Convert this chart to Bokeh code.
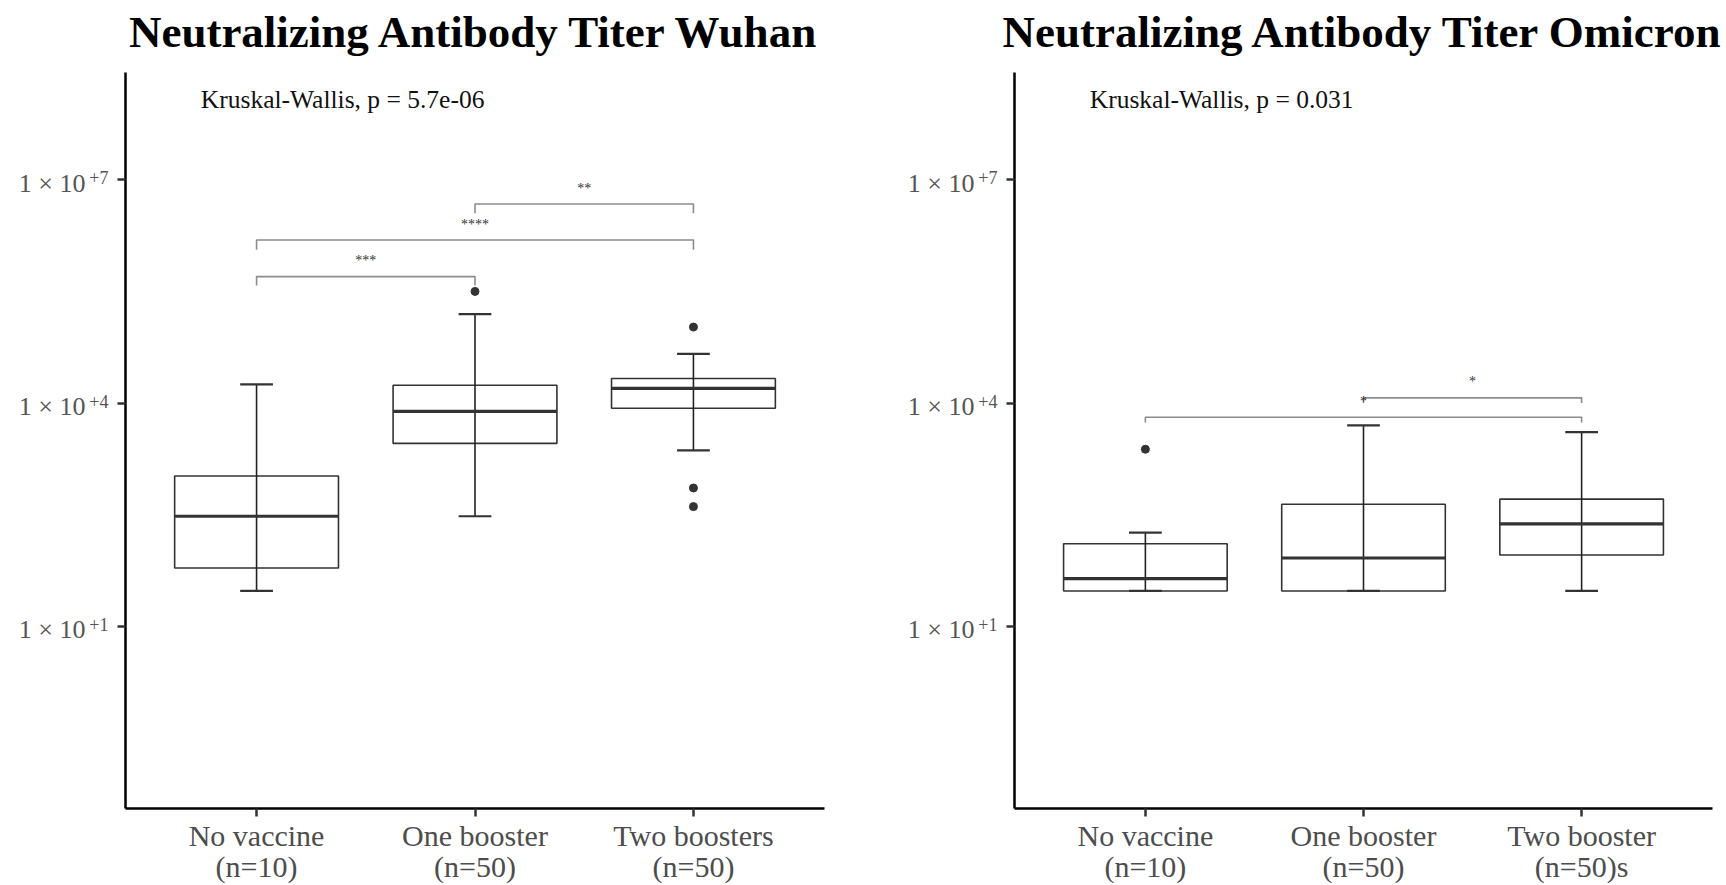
from bokeh.plotting import figure
from bokeh.layouts import row
from bokeh.models import Range1d, FixedTicker, ColumnDataSource, Title, LogAxis
from bokeh.embed import file_html
from bokeh.resources import INLINE
from bokeh.core.properties import value

# ---------------- data ----------------
groups_wuhan = ["No vaccine", "One booster", "Two boosters"]
counts_wuhan = ["(n=10)", "(n=50)", "(n=50)"]
groups_omicron = ["No vaccine", "One booster", "Two booster"]
counts_omicron = ["(n=10)", "(n=50)", "(n=50)s"]
group_pos = [1, 2, 3]

y_ticks = [1e1, 1e4, 1e7]
y_tick_mantissa = ["1 × 10", "1 × 10", "1 × 10"]
y_tick_exponent = ["+1", "+4", "+7"]

wuhan_lower = [30, 302, 2320]
wuhan_q1 = [61, 2880, 8510]
wuhan_median = [302, 7760, 15800]
wuhan_q3 = [1050, 17400, 21400]
wuhan_upper = [17800, 157000, 45700]
wuhan_outlier_group = [2, 3, 3, 3]
wuhan_outlier_value = [316000, 105000, 724, 407]

omicron_lower = [30, 30, 30]
omicron_q1 = [30, 30, 91]
omicron_median = [44, 83, 238]
omicron_q3 = [129, 437, 513]
omicron_upper = [182, 5010, 4070]
omicron_outlier_group = [1]
omicron_outlier_value = [2400]

wuhan_kw = "Kruskal-Wallis, p = 5.7e-06"
omicron_kw = "Kruskal-Wallis, p = 0.031"
kw_y = 1.2e8

# pairwise comparison brackets
wuhan_br_from = [1, 1, 2]
wuhan_br_to = [2, 3, 3]
wuhan_br_y = [5.0e5, 1.55e6, 4.73e6]
wuhan_br_tip = [3.8e5, 1.15e6, 3.55e6]
wuhan_br_label = ["***", "****", "**"]
wuhan_br_label_y = [8.3e5, 2.5e6, 7.7e6]

omicron_br_from = [1, 2]
omicron_br_to = [3, 3]
omicron_br_y = [6460, 11750]
omicron_br_tip = [5500, 10000]
omicron_br_label = ["*", "*"]
omicron_br_label_y = [10470, 19300]

FONT = "Liberation Serif"
BOX_W = 0.75
CAP_W = 0.15
Y_LO, Y_HI = -1.445, 8.44          # log10 limits of the value axis
TOP, BOTTOM, HEIGHT = 72, 76, 885
PX_PER_DEC = 74.5
MANT_SHIFT = 3.3 / PX_PER_DEC      # mantissa drawn a little below the tick
SUP_SHIFT = 1.8 / PX_PER_DEC       # exponent drawn a little above the tick


def style_axis(ax, size, color="#4D4D4D"):
    ax.major_label_text_font = FONT
    ax.major_label_text_font_size = size
    ax.major_label_text_color = color
    ax.minor_tick_line_color = None


def label_axis(ticks, labels, size, standoff, range_name):
    ax = LogAxis(ticker=FixedTicker(ticks=ticks), y_range_name=range_name,
                 major_label_overrides={t: s for t, s in zip(ticks, labels)},
                 axis_line_color=None, major_tick_line_color=None,
                 major_tick_in=0, major_tick_out=0, major_label_standoff=standoff)
    style_axis(ax, size, "#555555")
    return ax


def panel(title, names, counts, lower, q1, med, q3, upper, og, ov, kw,
          bf, bt, by, btip, blab, blab_y, width, left, right):
    p = figure(width=width, height=HEIGHT, title=None,
               x_range=Range1d(0.4, 3.6),
               y_range=Range1d(10 ** Y_LO, 10 ** Y_HI),
               y_axis_type="log", output_backend="svg", toolbar_location=None,
               min_border_left=left, min_border_right=right,
               min_border_top=TOP, min_border_bottom=BOTTOM)
    p.extra_y_ranges = {
        "mant": Range1d(10 ** (Y_LO + MANT_SHIFT), 10 ** (Y_HI + MANT_SHIFT)),
        "sup": Range1d(10 ** (Y_LO - SUP_SHIFT), 10 ** (Y_HI - SUP_SHIFT)),
    }
    # small spacer closest to the frame, then the real title above it
    p.add_layout(Title(text=" ", text_font_size="10px", standoff=3), "above")
    p.add_layout(Title(text=title, text_font=FONT, text_font_size="45px",
                       text_font_style="bold", align="center",
                       text_color="black", standoff=0), "above")
    p.outline_line_color = None
    p.grid.visible = False
    p.background_fill_color = "white"
    p.border_fill_color = "white"

    for ax in (p.xaxis[0], p.yaxis[0]):
        ax.axis_line_color = "black"
        ax.axis_line_width = 2.5
        ax.major_tick_line_color = "#333333"
        ax.major_tick_line_width = 2.5
        ax.major_tick_in = 0
        ax.major_tick_out = 8

    # x axis: two-line category labels
    p.xaxis.ticker = FixedTicker(ticks=group_pos)
    p.xaxis.major_label_overrides = {g: f"{n}\n{c}" for g, n, c in zip(group_pos, names, counts)}
    style_axis(p.xaxis[0], "30px")
    p.xaxis.major_label_text_line_height = 0.95
    p.xaxis.major_label_standoff = 2

    # y axis: ticks only; exponent and mantissa as label axes further left
    p.yaxis.ticker = FixedTicker(ticks=y_ticks)
    p.yaxis.major_label_overrides = {t: "" for t in y_ticks}
    p.yaxis.major_label_standoff = 0
    style_axis(p.yaxis[0], "10px")
    p.add_layout(label_axis(y_ticks, y_tick_exponent, "18px", 9, "sup"), "left")
    p.add_layout(label_axis(y_ticks, y_tick_mantissa, "26px", 1, "mant"), "left")

    src = ColumnDataSource(dict(
        x=group_pos, lower=lower, q1=q1, med=med, q3=q3, upper=upper,
        bl=[g - BOX_W / 2 for g in group_pos], br=[g + BOX_W / 2 for g in group_pos],
        cl=[g - CAP_W / 2 for g in group_pos], cr=[g + CAP_W / 2 for g in group_pos],
    ))
    p.quad(left="bl", right="br", bottom="q1", top="q3", source=src,
           fill_color="white", line_color="#333333", line_width=1.6)
    p.segment(x0="x", y0="lower", x1="x", y1="upper", source=src,
              line_color="#222222", line_width=1.6)
    p.segment(x0="cl", y0="upper", x1="cr", y1="upper", source=src,
              line_color="#333333", line_width=2.2)
    p.segment(x0="cl", y0="lower", x1="cr", y1="lower", source=src,
              line_color="#333333", line_width=2.2)
    p.segment(x0="bl", y0="med", x1="br", y1="med", source=src,
              line_color="#333333", line_width=3.2)
    p.scatter(x=og, y=ov, size=8, color="#333333")

    # brackets
    xs, ys = [], []
    for a, b, y, t in zip(bf, bt, by, btip):
        xs.append([a, a, b, b])
        ys.append([t, y, y, t])
    p.multi_line(xs=xs, ys=ys, line_color="#8C8C8C", line_width=1.6)
    p.text(x=[(a + b) / 2 for a, b in zip(bf, bt)], y=blab_y, text=blab,
           text_font=value(FONT), text_font_size="14px", text_color="#333333",
           text_align="center", text_baseline="middle")

    p.text(x=[0.745], y=[kw_y], text=[kw], text_font=value(FONT),
           text_font_size="25.5px", text_color="#111111",
           text_align="left", text_baseline="middle")
    return p


p1 = panel("Neutralizing Antibody Titer Wuhan", groups_wuhan, counts_wuhan,
           wuhan_lower, wuhan_q1, wuhan_median, wuhan_q3, wuhan_upper,
           wuhan_outlier_group, wuhan_outlier_value, wuhan_kw,
           wuhan_br_from, wuhan_br_to, wuhan_br_y, wuhan_br_tip,
           wuhan_br_label, wuhan_br_label_y, width=864, left=125, right=40)
p2 = panel("Neutralizing Antibody Titer Omicron", groups_omicron, counts_omicron,
           omicron_lower, omicron_q1, omicron_median, omicron_q3, omicron_upper,
           omicron_outlier_group, omicron_outlier_value, omicron_kw,
           omicron_br_from, omicron_br_to, omicron_br_y, omicron_br_tip,
           omicron_br_label, omicron_br_label_y, width=862, left=150, right=14)

layout = row(p1, p2)
open("out.html", "w").write(file_html(layout, INLINE))
